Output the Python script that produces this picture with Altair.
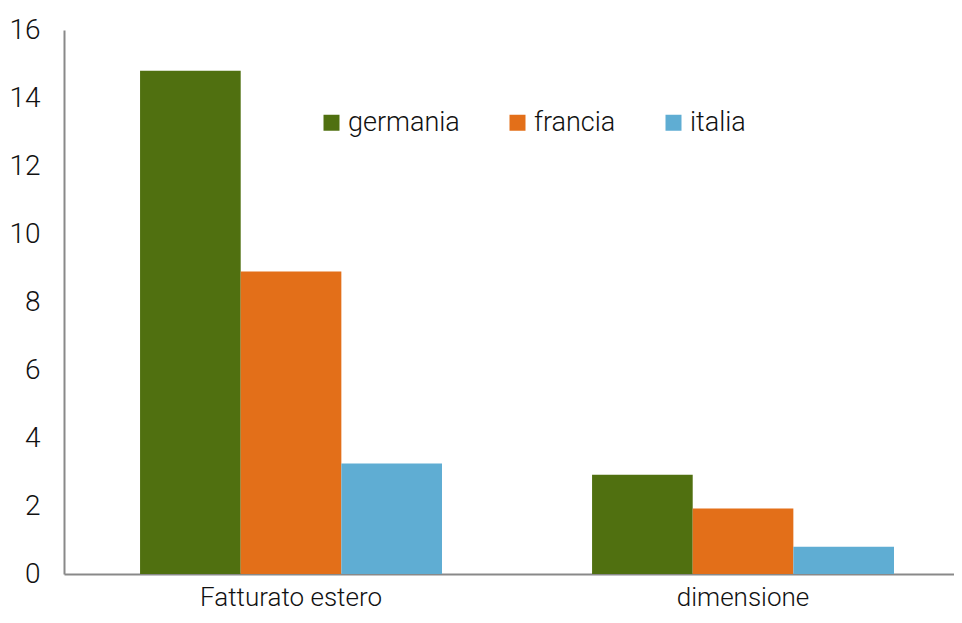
import altair as alt
import pandas as pd

categories = ["Fatturato estero", "dimensione"]
countries = ["germania", "francia", "italia"]
germania = [14.8, 2.92]
francia = [8.9, 1.93]
italia = [3.25, 0.8]
colors = ["#507010", "#E36F19", "#5FADD3"]
y_ticks = [0, 2, 4, 6, 8, 10, 12, 14, 16]

rows = []
for i, c in enumerate(categories):
    for name, vals in zip(countries, [germania, francia, italia]):
        rows.append({"categoria": c, "paese": name, "valore": vals[i]})
df = pd.DataFrame(rows)

FONT = "Roboto"
AXIS_GREY = "#898989"

chart = alt.Chart(df).mark_bar().encode(
    x=alt.X(
        "categoria:N", sort=categories, title=None,
        scale=alt.Scale(paddingInner=0.332, paddingOuter=0.1505, align=0.559),
        axis=alt.Axis(labelAngle=0, ticks=False, labelPadding=10, labelFontSize=26,
                      labelLimit=0, labelFont=FONT, labelFontWeight=300,
                      labelColor="#111111", domainColor=AXIS_GREY, domainWidth=2),
    ),
    xOffset=alt.XOffset("paese:N", sort=countries,
                        scale=alt.Scale(paddingInner=0, paddingOuter=0)),
    y=alt.Y(
        "valore:Q", title=None,
        scale=alt.Scale(domain=[0, 16], nice=False),
        axis=alt.Axis(values=y_ticks, grid=False, ticks=False, labelPadding=24,
                      labelFontSize=28, labelFont=FONT, labelFontWeight=300,
                      labelColor="#111111", domainColor=AXIS_GREY, domainWidth=2),
    ),
    color=alt.Color(
        "paese:N", sort=countries,
        scale=alt.Scale(domain=countries, range=colors),
        legend=alt.Legend(
            title=None, orient="none", legendX=254, legendY=79,
            direction="horizontal", symbolType="square", symbolSize=256,
            symbolStrokeWidth=0, labelFontSize=27, labelFont=FONT,
            labelFontWeight=300, labelColor="#111111", labelOffset=3,
            columnPadding=44,
        ),
    ),
).properties(
    width=890, height=544,
    autosize=alt.AutoSizeParams(type="none"),
    padding={"left": 56, "top": 22, "right": 0, "bottom": 36},
).configure_view(stroke=None)

chart.save("out.html", embed_options={"renderer": "svg", "actions": False})
